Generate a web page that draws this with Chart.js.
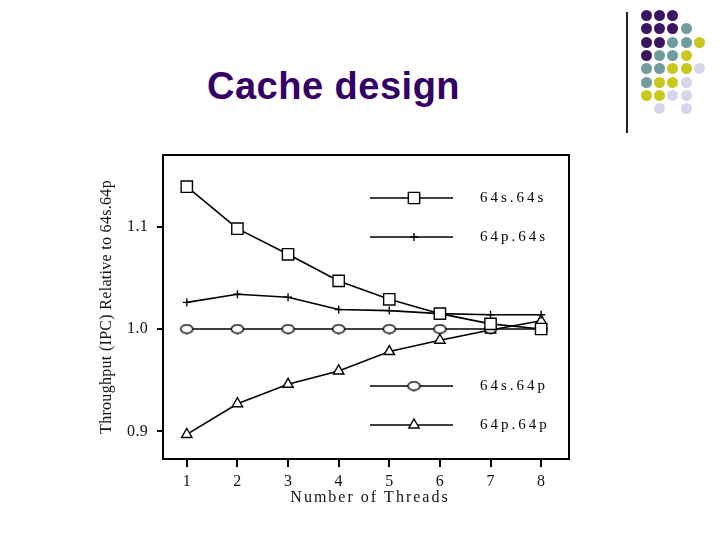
<!DOCTYPE html>
<html>
<head>
<meta charset="utf-8">
<script src="https://cdn.jsdelivr.net/npm/chart.js@4.4.1/dist/chart.umd.min.js"></script>
<style>
  body { margin: 0; background: #fff; }
  #wrap { position: relative; width: 720px; height: 540px; overflow: hidden; }
  #title { position: absolute; left: 207px; top: 65px; font: bold 38px "Liberation Sans", Arial, sans-serif; color: #330066; letter-spacing: 0.5px; }
  #vline { position: absolute; left: 626px; top: 12px; width: 2px; height: 121px; background: #222; }
  .dot { position: absolute; width: 11px; height: 11px; border-radius: 50%; }
  canvas { position: absolute; left: 0; top: 0; }
</style>
</head>
<body>
<div id="wrap">
  <div id="title">Cache design</div>
  <div id="vline"></div>
  <canvas id="mychart" width="720" height="540"></canvas>
</div>
<script>
// data
var threads = [1, 2, 3, 4, 5, 6, 7, 8]
var s64s64 = [1.139, 1.098, 1.073, 1.047, 1.029, 1.015, 1.005, 1.0]
var p64s64 = [1.026, 1.034, 1.031, 1.019, 1.018, 1.015, 1.014, 1.014]
var s64p64 = [1.0, 1.0, 1.0, 1.0, 1.0, 1.0, 1.0, 1.0]
var p64p64 = [0.897, 0.927, 0.946, 0.959, 0.978, 0.989, 0.999, 1.008]
var yTicks = [0.9, 1.0, 1.1]
var seriesNames = ['64s.64s', '64p.64s', '64s.64p', '64p.64p']

// corner decoration dots
var dotColors = { P: '#3b1464', T: '#6f9c9c', Y: '#c8c81e', L: '#d6d6ea' }
var dotRows = ['PPP', 'PPPT', 'PPTTY', 'PTTY', 'TTYYL', 'TYYL', 'YYLL', '-L-L']
var wrap = document.getElementById('wrap')
dotRows.forEach(function (row, r) {
    row.split('').forEach(function (c, k) {
        if (c == '-') return
        var d = document.createElement('div')
        d.className = 'dot'
        d.style.left = (641 + k * 13.2) + 'px'
        d.style.top = (10 + r * 13.3) + 'px'
        d.style.background = dotColors[c]
        wrap.appendChild(d)
    })
})

// ellipse marker like the scanned circles
var ell = document.createElement('canvas')
ell.width = 15; ell.height = 11
var ec = ell.getContext('2d')
ec.beginPath()
ec.ellipse(7.5, 5.5, 6, 4.2, 0, 0, Math.PI * 2)
ec.fillStyle = '#fff'; ec.fill()
ec.lineWidth = 1.4; ec.strokeStyle = '#000'; ec.stroke()

var styles = [
    { pointStyle: 'rect', radius: 8 },
    { pointStyle: 'cross', radius: 4 },
    { pointStyle: ell, radius: 6 },
    { pointStyle: 'triangle', radius: 6 }
]
var seriesData = [s64s64, p64s64, s64p64, p64p64]
var serif = '"Liberation Serif", serif'

// box, x title and legend inside plot
const boxLegend = {
    id: 'boxLegend',
    beforeDraw: function (chart) {
        chart.ctx.letterSpacing = '0.3px'
    },
    afterDraw: function (chart) {
        var ctx = chart.ctx, a = chart.chartArea
        ctx.save()
        ctx.strokeStyle = '#000'
        ctx.lineWidth = 2
        ctx.strokeRect(a.left, a.top, a.right - a.left, a.bottom - a.top)

        // x axis title (scan is stretched sideways, so wide spacing)
        ctx.font = '16px ' + serif
        ctx.letterSpacing = '2px'
        ctx.textAlign = 'center'
        ctx.textBaseline = 'middle'
        ctx.fillStyle = '#111'
        ctx.fillText('Number of Threads', (a.left + a.right) / 2 + 4, 498)

        var ys = [198, 237, 386, 425]
        ctx.font = '15px ' + serif
        ctx.letterSpacing = '3px'
        ctx.textAlign = 'left'
        for (var i = 0; i < 4; i++) {
            ctx.strokeStyle = '#000'
            ctx.lineWidth = 1.5
            ctx.beginPath()
            ctx.moveTo(370, ys[i]); ctx.lineTo(453, ys[i])
            ctx.stroke()
            ctx.fillStyle = '#fff'
            ctx.lineWidth = 1.4
            Chart.helpers.drawPoint(ctx, { pointStyle: styles[i].pointStyle, radius: styles[i].radius, rotation: 0, borderWidth: 1.4 }, 414, ys[i])
            ctx.fillStyle = '#000'
            ctx.fillText(seriesNames[i], 480, ys[i])
        }
        ctx.restore()
    }
}

const ctx = document.getElementById('mychart')
const mychart = new Chart(ctx, {
    type: 'line',
    data: {
        datasets: seriesData.map(function (d, i) {
            return {
                label: seriesNames[i],
                data: d.map(function (v, k) { return { x: threads[k], y: v } }),
                borderColor: '#000',
                borderWidth: 1.6,
                backgroundColor: '#fff',
                pointStyle: styles[i].pointStyle,
                pointRadius: styles[i].radius,
                pointBorderColor: '#000',
                pointBorderWidth: 1.4,
                pointBackgroundColor: '#fff',
                tension: 0
            }
        })
    },
    options: {
        responsive: false,
        animation: false,
        events: [],
        layout: { padding: { left: 97, right: 151, top: 155, bottom: 30 } },
        plugins: { legend: { display: false }, tooltip: { enabled: false } },
        scales: {
            x: {
                type: 'linear',
                min: 0.53,
                max: 8.55,
                afterBuildTicks: function (s) { s.ticks = threads.map(function (v) { return { value: v } }) },
                afterFit: function (s) { s.height = 540 - 459 - 30 },
                grid: { drawOnChartArea: false, drawTicks: true, tickLength: 8, color: '#000', lineWidth: 2 },
                border: { display: false },
                ticks: { color: '#111', font: { family: serif, size: 16 }, padding: 5, maxRotation: 0 },
                title: { display: false }
            },
            y: {
                min: 0.873,
                max: 1.17,
                afterBuildTicks: function (s) { s.ticks = yTicks.map(function (v) { return { value: v } }) },
                afterFit: function (s) { s.width = 163 - 97 },
                grid: { drawOnChartArea: false, drawTicks: true, tickLength: 6, color: '#000', lineWidth: 2 },
                border: { display: false },
                ticks: { color: '#111', font: { family: serif, size: 16 }, padding: 9, callback: function (v) { return v.toFixed(1) } },
                title: { display: true, text: 'Throughput (IPC) Relative to 64s.64p', color: '#111', font: { family: serif, size: 16 }, padding: 0 }
            }
        }
    },
    plugins: [boxLegend]
})
</script>
</body>
</html>
